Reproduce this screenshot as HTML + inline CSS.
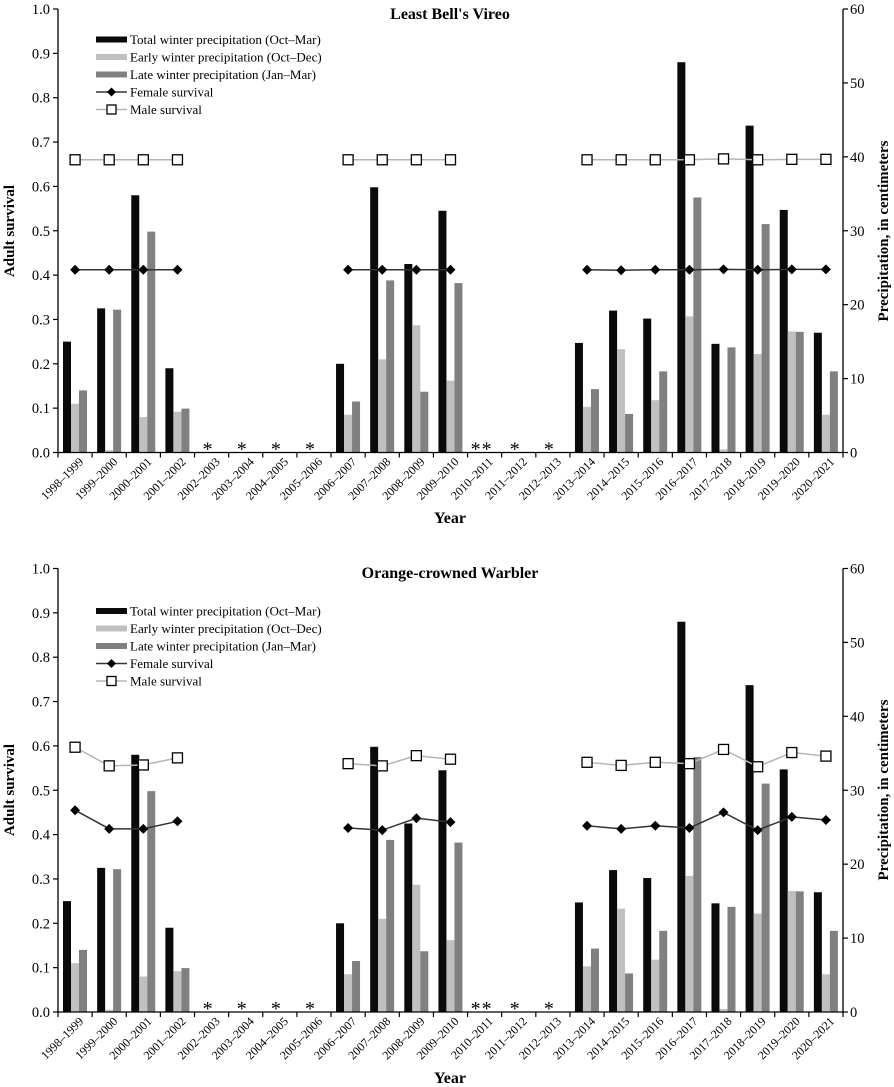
<!DOCTYPE html>
<html><head><meta charset="utf-8"><style>
body{margin:0;background:#fff}
svg{display:block}
text{font-family:"Liberation Serif","DejaVu Serif",serif}
</style></head><body>
<svg id="s" width="894" height="1087" viewBox="0 0 894 1087" font-family="Liberation Serif, serif">
<g font-size="13" fill="#000">
<text x="450" y="19" text-anchor="middle" font-weight="bold" font-size="16">Least Bell's Vireo</text>
<text x="450" y="578" text-anchor="middle" font-weight="bold" font-size="16">Orange-crowned Warbler</text>
<text transform="translate(14,231) rotate(-90)" text-anchor="middle" font-weight="bold" font-size="15">Adult survival</text>
<text transform="translate(14,790) rotate(-90)" text-anchor="middle" font-weight="bold" font-size="15">Adult survival</text>
<text transform="translate(888,231) rotate(-90)" text-anchor="middle" font-weight="bold" font-size="15">Precipitation, in centimeters</text>
<text transform="translate(888,790) rotate(-90)" text-anchor="middle" font-weight="bold" font-size="15">Precipitation, in centimeters</text>
<text x="450" y="523" text-anchor="middle" font-weight="bold" font-size="16">Year</text>
<text x="450" y="1083" text-anchor="middle" font-weight="bold" font-size="16">Year</text>
</g>
<g id="txt" font-size="14"></g>
<g id="g"></g>
</svg>
<script>
var NS="http://www.w3.org/2000/svg",G=document.getElementById("g"),T=document.getElementById("txt");
function el(p,t,a,txt){var e=document.createElementNS(NS,t);for(var k in a)e.setAttribute(k,a[k]);if(txt)e.textContent=txt;p.appendChild(e);return e;}
var years=["1998–1999","1999–2000","2000–2001","2001–2002","2002–2003","2003–2004","2004–2005","2005–2006","2006–2007","2007–2008","2008–2009","2009–2010","2010–2011","2011–2012","2012–2013","2013–2014","2014–2015","2015–2016","2016–2017","2017–2018","2018–2019","2019–2020","2020–2021"];
var N=null;
var tot=[0.25,0.325,0.58,0.19,N,N,N,N,0.20,0.598,0.425,0.545,N,N,N,0.247,0.32,0.302,0.88,0.245,0.737,0.547,0.27];
var ear=[0.11,0.005,0.08,0.092,N,N,N,N,0.085,0.21,0.287,0.162,N,N,N,0.103,0.233,0.118,0.307,0.007,0.222,0.273,0.085];
var lat=[0.14,0.322,0.498,0.099,N,N,N,N,0.115,0.388,0.137,0.382,N,N,N,0.143,0.087,0.183,0.575,0.237,0.515,0.272,0.183];
var f1=[.412,.412,.412,.412,N,N,N,N,.412,.412,.412,.412,N,N,N,.412,.411,.412,.412,.413,.412,.413,.413];
var m1=[.66,.66,.66,.66,N,N,N,N,.66,.66,.66,.66,N,N,N,.66,.66,.66,.66,.662,.66,.661,.661];
var f2=[.455,.413,.413,.43,N,N,N,N,.415,.41,.437,.428,N,N,N,.42,.413,.42,.415,.45,.41,.44,.433];
var m2=[.597,.555,.557,.573,N,N,N,N,.56,.555,.578,.57,N,N,N,.563,.556,.563,.56,.592,.553,.585,.577];
var X0=58,X1=843,W=(X1-X0)/23,H=443.5,FF="Liberation Serif, serif";
function tx(a,s){a["font-family"]=FF;return el(T,"text",a,s);}
function chart(y0,fem,mal,leg){
 var Y=function(v){return y0-v*H};
 for(var i=0;i<23;i++){var x=X0+i*W;
  if(tot[i]!=null){
   el(G,"rect",{x:x+5,y:Y(tot[i]),width:8,height:tot[i]*H,fill:"#0a0a0a"});
   el(G,"rect",{x:x+13,y:Y(ear[i]),width:8,height:ear[i]*H,fill:"#c0c0c0"});
   el(G,"rect",{x:x+21,y:Y(lat[i]),width:8,height:lat[i]*H,fill:"#808080"});
  }}
 [[mal,"#b5b5b5"],[fem,"#333"]].forEach(function(s){var d="",pen=false;
  for(var i=0;i<23;i++){if(s[0][i]==null){pen=false;continue;}var x=X0+(i+.5)*W,y=Y(s[0][i]);d+=(pen?"L":"M")+x+" "+y;pen=true;}
  el(G,"path",{d:d,stroke:s[1],"stroke-width":1.5,fill:"none"});});
 for(var i=0;i<23;i++){var x=X0+(i+.5)*W;
  if(mal[i]!=null)el(G,"rect",{x:x-5,y:Y(mal[i])-5,width:10,height:10,fill:"#fff",stroke:"#000","stroke-width":1.3});
  if(fem[i]!=null){var y=Y(fem[i]);el(G,"path",{d:"M"+x+" "+(y-5)+"L"+(x+5)+" "+y+"L"+x+" "+(y+5)+"L"+(x-5)+" "+y+"Z",fill:"#000"});}
 }
 el(G,"path",{d:"M"+X0+" "+(y0-H)+"V"+y0+"H"+X1+"V"+(y0-H),stroke:"#000","stroke-width":1.3,fill:"none"});
 for(var k=0;k<=10;k++){var y=Y(k/10);el(G,"path",{d:"M"+(X0-5)+" "+y+"H"+X0,stroke:"#000","stroke-width":1.2});
  tx({x:X0-8,y:y+5,"text-anchor":"end","font-size":"14.5"},(k/10).toFixed(1));}
 for(var k=0;k<=6;k++){var y=y0-k*H/6;el(G,"path",{d:"M"+X1+" "+y+"H"+(X1+5),stroke:"#000","stroke-width":1.2});
  tx({x:X1+7,y:y+5,"font-size":"14.5"},String(k*10));}
 for(var i=0;i<=23;i++){var x=X0+i*W;el(G,"path",{d:"M"+x+" "+y0+"V"+(y0+5),stroke:"#000","stroke-width":1.2});}
 for(var i=0;i<23;i++){var x=X0+(i+.5)*W+9;tx({transform:"translate("+x+","+(y0+10)+") rotate(-45)","text-anchor":"end","font-size":"12"},years[i]);}
 [4,5,6,7,13,14].forEach(function(i){tx({x:X0+(i+.5)*W-4,y:y0+3,"text-anchor":"middle","font-size":"20"},"*");});
 tx({x:X0+12*W+8,y:y0+3,"text-anchor":"middle","font-size":"20"},"*");
 tx({x:X0+12*W+19,y:y0+3,"text-anchor":"middle","font-size":"20"},"*");
 var lx=96,ly=leg,labs=["Total winter precipitation (Oct–Mar)","Early winter precipitation (Oct–Dec)","Late winter precipitation (Jan–Mar)","Female survival","Male survival"],cols=["#0a0a0a","#c0c0c0","#808080"];
 for(var j=0;j<5;j++){var y=ly+j*17.5;
  if(j<3)el(G,"rect",{x:lx,y:y-3,width:31,height:6,fill:cols[j]});
  else{el(G,"path",{d:"M"+lx+" "+y+"H"+(lx+31),stroke:j==3?"#333":"#b5b5b5","stroke-width":1.5});
   var cx=lx+15.5;
   if(j==3)el(G,"path",{d:"M"+cx+" "+(y-4.5)+"L"+(cx+4.5)+" "+y+"L"+cx+" "+(y+4.5)+"L"+(cx-4.5)+" "+y+"Z",fill:"#000"});
   else el(G,"rect",{x:cx-4.5,y:y-4.5,width:9,height:9,fill:"#fff",stroke:"#000","stroke-width":1.3});}
  tx({x:lx+34,y:y+4.5,"font-size":"13"},labs[j]);}
}
chart(452.5,f1,m1,39.5);
chart(1012,f2,m2,611);
</script>
</body></html>
